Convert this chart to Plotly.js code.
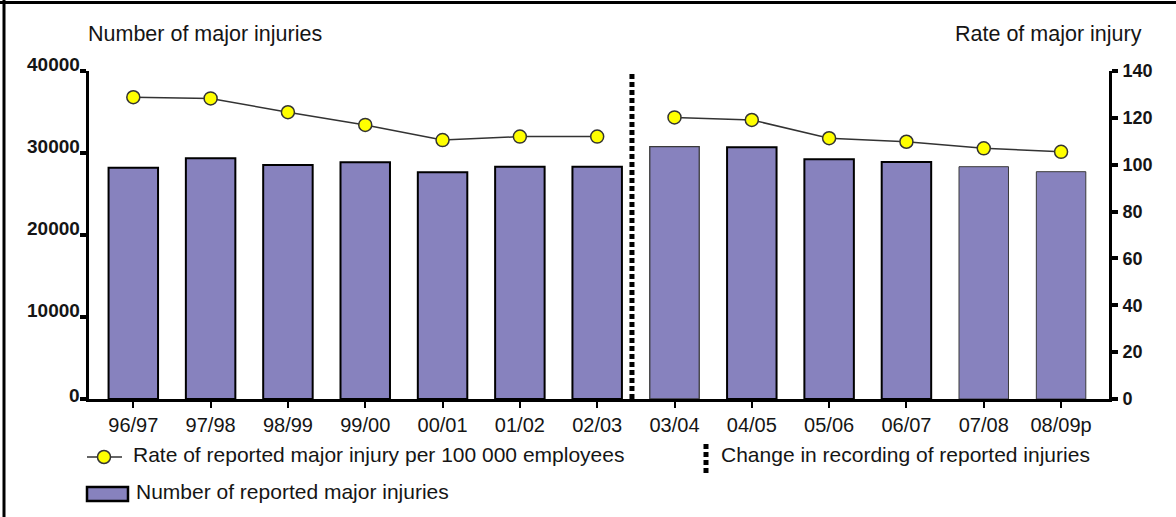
<!DOCTYPE html>
<html>
<head>
<meta charset="utf-8">
<script src="https://cdn.plot.ly/plotly-3.0.1.min.js"></script>
<style>
  html, body { margin: 0; padding: 0; background: #ffffff; }
  #chart { width: 1176px; height: 517px; }
</style>
</head>
<body>
<div id="chart"></div>
<script>
// ---- data ----
const categories = ['96/97', '97/98', '98/99', '99/00', '00/01', '01/02', '02/03',
                    '03/04', '04/05', '05/06', '06/07', '07/08', '08/09p'];
const majorInjuries = [28210, 29350, 28540, 28870, 27650, 28330, 28330,
                       30770, 30700, 29230, 28900, 28330, 27720];
const injuryRate = [128.8, 128.3, 122.4, 117.0, 110.5, 112.0, 112.0,
                    120.2, 119.1, 111.3, 109.8, 107.0, 105.5];
const leftTicks = [0, 10000, 20000, 30000, 40000];
const leftTickText = ['0', '10000', '20000', '30000', '40000'];
const rightTicks = [0, 20, 40, 60, 80, 100, 120, 140];
const breakAfterIndex = 6; // change in recording between 02/03 and 03/04

const leftTitle = 'Number of major injuries';
const rightTitle = 'Rate of major injury';
const legendRate = 'Rate of reported major injury per 100 000 employees';
const legendChange = 'Change in recording of reported injuries';
const legendBars = 'Number of reported major injuries';

// ---- styling ----
const FONT = 'Liberation Sans, Arial, Helvetica, sans-serif';
const BAR_FILL = '#8782BE';
const YELLOW = '#FFFF00';
const LINE_DARK = '#333333';
const TEXT = '#151515';

const W = 1176, H = 517;
const M = { l: 89, r: 67, t: 71, b: 118 };
const PW = W - M.l - M.r, PH = H - M.t - M.b;
const px = x => (x - M.l) / PW;          // pixel -> paper x
const py = y => (H - M.b - y) / PH;      // pixel -> paper y

const barLineWidths = [2, 2, 2, 2, 2, 2, 2, 1.3, 2, 2, 2, 1, 1];
const barLineColors = barLineWidths.map(w => w < 1.5 ? '#3a3a3a' : '#000000');

const bars = {
  type: 'bar',
  x: categories,
  y: majorInjuries,
  yaxis: 'y',
  marker: { color: BAR_FILL, line: { color: barLineColors, width: barLineWidths } },
  showlegend: false,
  hoverinfo: 'x+y'
};

const rateStyle = {
  type: 'scatter',
  mode: 'lines+markers',
  yaxis: 'y2',
  line: { color: LINE_DARK, width: 1.5 },
  marker: { color: YELLOW, size: 13, line: { color: LINE_DARK, width: 1.5 } },
  showlegend: false
};
const rateBefore = Object.assign({}, rateStyle, {
  x: categories.slice(0, breakAfterIndex + 1),
  y: injuryRate.slice(0, breakAfterIndex + 1)
});
const rateAfter = Object.assign({}, rateStyle, {
  x: categories.slice(breakAfterIndex + 1),
  y: injuryRate.slice(breakAfterIndex + 1)
});

const shapes = [
  // change in recording marker
  { type: 'line', xref: 'x', yref: 'paper', x0: breakAfterIndex + 0.45, x1: breakAfterIndex + 0.45,
    y0: 0, y1: 0.997, line: { color: '#000', width: 5, dash: '5px,3px' } },
  // outer frame (top and left edges visible)
  { type: 'line', xref: 'paper', yref: 'paper', x0: px(0), x1: px(W), y0: py(2.5), y1: py(2.5),
    line: { color: '#000', width: 3 } },
  { type: 'line', xref: 'paper', yref: 'paper', x0: px(4), x1: px(4), y0: py(0), y1: py(H),
    line: { color: '#000', width: 3 } },
  // legend: rate line + marker
  { type: 'line', xref: 'paper', yref: 'paper', x0: px(87), x1: px(122), y0: py(457), y1: py(457),
    line: { color: LINE_DARK, width: 1.5 } },
  { type: 'circle', xref: 'paper', yref: 'paper', x0: px(97.5), x1: px(110.5), y0: py(463.5), y1: py(450.5),
    fillcolor: YELLOW, line: { color: LINE_DARK, width: 1.5 } },
  // legend: change in recording
  { type: 'line', xref: 'paper', yref: 'paper', x0: px(706), x1: px(706), y0: py(444), y1: py(476),
    line: { color: '#000', width: 5, dash: '5px,3px' } },
  // legend: bars
  { type: 'rect', xref: 'paper', yref: 'paper', x0: px(87), x1: px(128), y0: py(501), y1: py(487),
    fillcolor: BAR_FILL, line: { color: '#000', width: 2.5 } }
];

const annFont = size => ({ family: FONT, size: size, color: TEXT });
const annotations = [
  { text: leftTitle, xref: 'paper', yref: 'paper', x: px(86), y: py(34), xanchor: 'left', yanchor: 'middle',
    showarrow: false, font: annFont(21.5) },
  { text: rightTitle, xref: 'paper', yref: 'paper', x: px(1144), y: py(34), xanchor: 'right', yanchor: 'middle',
    showarrow: false, font: annFont(21.5) },
  { text: legendRate, xref: 'paper', yref: 'paper', x: px(131), y: py(454), xanchor: 'left', yanchor: 'middle',
    showarrow: false, font: annFont(21) },
  { text: legendChange, xref: 'paper', yref: 'paper', x: px(719), y: py(454), xanchor: 'left', yanchor: 'middle',
    showarrow: false, font: annFont(21) },
  { text: legendBars, xref: 'paper', yref: 'paper', x: px(134), y: py(491), xanchor: 'left', yanchor: 'middle',
    showarrow: false, font: annFont(21) }
];
// left-axis tick labels sit just above their tick marks in the reference
leftTicks.forEach((v, i) => {
  annotations.push({
    text: leftTickText[i], xref: 'paper', yref: 'y', x: px(82), y: v,
    xanchor: 'right', yanchor: 'middle', yshift: v === 0 ? 4 : 7,
    showarrow: false, font: { family: FONT, size: 19, color: TEXT, weight: 'bold' }
  });
});

const layout = {
  width: W, height: H,
  margin: { l: M.l, r: M.r, t: M.t, b: M.b, pad: 0 },
  paper_bgcolor: '#ffffff', plot_bgcolor: '#ffffff',
  font: { family: FONT, color: TEXT },
  bargap: 0.36,
  showlegend: false,
  xaxis: {
    type: 'category',
    range: [-0.573, 12.62],
    showline: true, linecolor: '#000', linewidth: 3,
    ticks: 'outside', ticklen: 6, tickwidth: 2, tickcolor: '#000',
    tickfont: { family: FONT, size: 20, color: TEXT },
    showgrid: false, zeroline: false, fixedrange: true
  },
  yaxis: {
    range: [0, 40000],
    tickvals: leftTicks, ticktext: leftTickText,
    showticklabels: false,
    showline: true, linecolor: '#000', linewidth: 3,
    ticks: 'outside', ticklen: 6, tickwidth: 4, tickcolor: '#000',
    showgrid: false, zeroline: false, fixedrange: true
  },
  yaxis2: {
    overlaying: 'y', side: 'right',
    range: [0, 140],
    tickvals: rightTicks,
    showline: true, linecolor: '#000', linewidth: 3,
    ticks: 'outside', ticklen: 6, tickwidth: 4, tickcolor: '#000',
    ticklabelstandoff: 1,
    tickfont: { family: FONT, size: 18, color: TEXT, weight: 'bold' },
    showgrid: false, zeroline: false, fixedrange: true
  },
  shapes: shapes,
  annotations: annotations
};

Plotly.newPlot('chart', [bars, rateBefore, rateAfter], layout, { displayModeBar: false, staticPlot: true });
</script>
</body>
</html>
